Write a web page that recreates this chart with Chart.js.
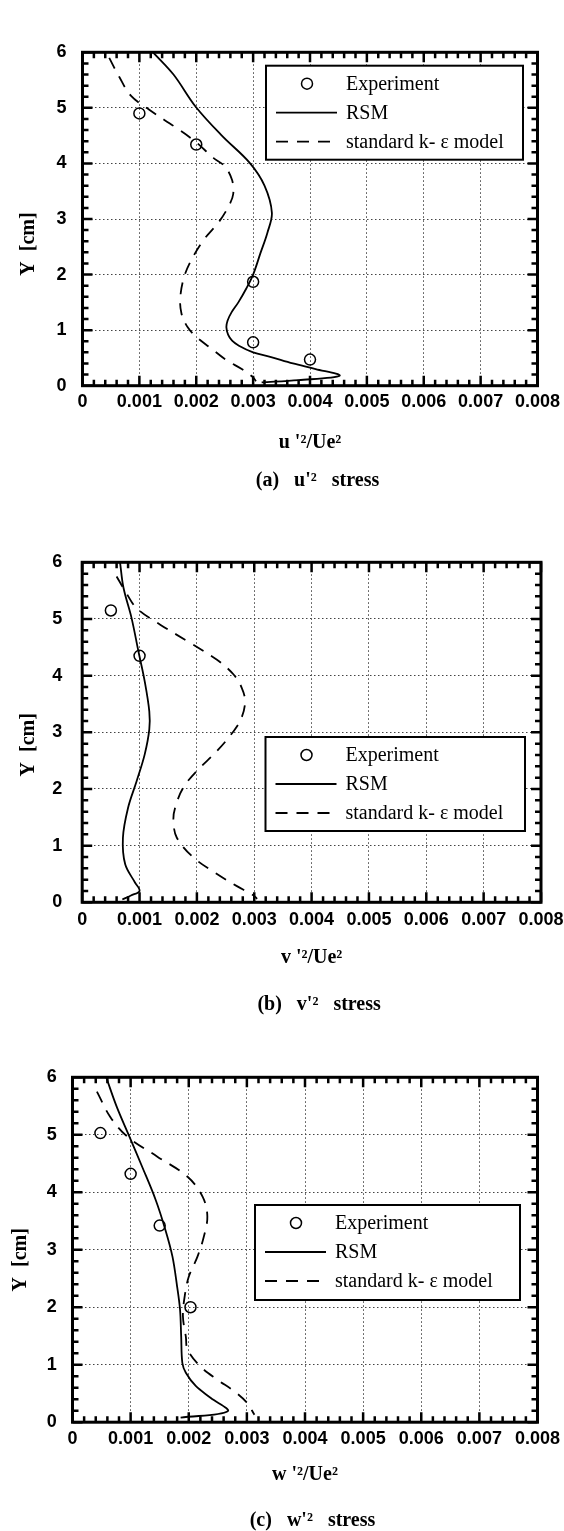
<!DOCTYPE html>
<html>
<head>
<meta charset="utf-8">
<script src="https://cdn.jsdelivr.net/npm/chart.js@4.4.0/dist/chart.umd.min.js"></script>
<style>
  body { margin: 0; background: #fff; }
  #wrap { position: relative; width: 564px; height: 1531px; overflow: hidden; background: #fff; }
  canvas { position: absolute; left: 0; }
</style>
</head>
<body>
<div id="wrap">
  <canvas id="chartA" width="564" height="500" style="top:0px"></canvas>
  <canvas id="chartB" width="564" height="525" style="top:500px"></canvas>
  <canvas id="chartC" width="564" height="506" style="top:1025px"></canvas>
</div>
<script>
// tick labels
const xTickLabels = ['0', '0.001', '0.002', '0.003', '0.004', '0.005', '0.006', '0.007', '0.008'];
const yTickLabels = ['0', '1', '2', '3', '4', '5', '6'];

// (a) u'2 stress
const uExpX = [0.001, 0.002, 0.003, 0.003, 0.004];
const uExpY = [4.9, 4.34, 1.87, 0.78, 0.47];
const uRsmX = [0.00124, 0.0016, 0.00199, 0.00245, 0.00294, 0.0032, 0.00333, 0.00325, 0.00313, 0.003, 0.00288, 0.00274, 0.00262, 0.00255, 0.00253, 0.00256, 0.00263, 0.00275, 0.003, 0.0033, 0.0037, 0.0041, 0.00452, 0.0038, 0.00315];
const uRsmY = [6.0, 5.6, 5.02, 4.5, 4.01, 3.6, 3.11, 2.75, 2.39, 2.0, 1.75, 1.5, 1.32, 1.17, 1.05, 0.92, 0.81, 0.72, 0.6, 0.52, 0.4, 0.3, 0.18, 0.1, 0.06];
const uKeX = [0.00047, 0.00065, 0.00085, 0.00118, 0.00165, 0.002, 0.0023, 0.0025, 0.00263, 0.00265, 0.00258, 0.0024, 0.00215, 0.00196, 0.0018, 0.00172, 0.00174, 0.00185, 0.002, 0.00225, 0.00253, 0.0028, 0.003, 0.00305];
const uKeY = [5.9, 5.55, 5.22, 4.96, 4.64, 4.38, 4.1, 3.95, 3.7, 3.45, 3.25, 2.95, 2.65, 2.35, 2.0, 1.6, 1.3, 1.05, 0.88, 0.68, 0.46, 0.3, 0.15, 0.08];

// (b) v'2 stress
const vExpX = [0.0005, 0.001];
const vExpY = [5.15, 4.35];
const vRsmX = [0.00066, 0.00072, 0.00086, 0.00098, 0.00109, 0.00117, 0.00117, 0.00109, 0.00095, 0.0008, 0.00071, 0.00075, 0.00092, 0.001, 0.00085, 0.0007];
const vRsmY = [6.0, 5.55, 5.02, 4.43, 3.9, 3.37, 3.05, 2.61, 2.14, 1.67, 1.14, 0.67, 0.35, 0.2, 0.12, 0.05];
const vKeX = [0.0006, 0.00075, 0.00095, 0.00136, 0.00188, 0.00235, 0.00264, 0.00278, 0.00284, 0.00278, 0.00264, 0.00235, 0.002, 0.00176, 0.00162, 0.00159, 0.00165, 0.00194, 0.00235, 0.00269, 0.00299, 0.00305];
const vKeY = [5.75, 5.49, 5.19, 4.9, 4.58, 4.28, 4.02, 3.79, 3.55, 3.26, 3.02, 2.67, 2.32, 2.02, 1.67, 1.44, 1.14, 0.79, 0.5, 0.29, 0.12, 0.06];

// (c) w'2 stress
const wExpX = [0.00048, 0.001, 0.0015, 0.00203];
const wExpY = [5.03, 4.32, 3.42, 2.0];
const wRsmX = [0.00058, 0.00076, 0.00097, 0.0012, 0.00143, 0.0016, 0.00172, 0.0018, 0.00185, 0.00187, 0.00189, 0.00195, 0.00212, 0.00238, 0.00267, 0.00186];
const wRsmY = [6.0, 5.49, 4.99, 4.44, 3.87, 3.34, 2.88, 2.36, 1.96, 1.49, 1.03, 0.86, 0.63, 0.42, 0.19, 0.08];
const wKeX = [0.00042, 0.00065, 0.00094, 0.00146, 0.00198, 0.00224, 0.00232, 0.00226, 0.00215, 0.002, 0.00193, 0.0019, 0.00195, 0.00198, 0.0022, 0.00249, 0.00278, 0.003, 0.00313];
const wKeY = [5.75, 5.31, 4.97, 4.62, 4.27, 3.92, 3.58, 3.23, 2.88, 2.53, 2.19, 1.84, 1.49, 1.26, 0.97, 0.74, 0.54, 0.34, 0.13];

const seriesLabels = ['Experiment', 'RSM', 'standard k- \u03b5 model'];

const SERIF = '"Liberation Serif", "Times New Roman", serif';
const SANS = '"Liberation Sans", Arial, sans-serif';

// frame + inward ticks on all four sides
const frameTicks = {
  id: 'frameTicks',
  afterDatasetsDraw(chart) {
    const {ctx, chartArea: a, scales: {x, y}} = chart;
    ctx.save();
    ctx.strokeStyle = '#000';
    ctx.lineWidth = 2.5;
    ctx.beginPath();
    for (let i = 0; i <= 40; i++) {
      const px = x.getPixelForValue(i * 0.0002);
      const len = i % 5 === 0 ? 10 : 6;
      ctx.moveTo(px, a.bottom); ctx.lineTo(px, a.bottom - len);
      ctx.moveTo(px, a.top); ctx.lineTo(px, a.top + len);
    }
    for (let i = 0; i <= 30; i++) {
      const py = y.getPixelForValue(i * 0.2);
      const len = i % 5 === 0 ? 10 : 6;
      ctx.moveTo(a.left, py); ctx.lineTo(a.left + len, py);
      ctx.moveTo(a.right, py); ctx.lineTo(a.right - len, py);
    }
    ctx.stroke();
    ctx.lineWidth = 3;
    ctx.strokeRect(a.left, a.top, a.right - a.left, a.bottom - a.top);
    ctx.restore();
  }
};

// boxed legend inside the plot
const boxLegend = {
  id: 'boxLegend',
  afterDraw(chart, args, opts) {
    const {ctx, chartArea: a} = chart;
    const L = a.left + opts.left, T = a.top + opts.top;
    const rows = [18, 47, 76];
    ctx.save();
    ctx.fillStyle = '#fff';
    ctx.fillRect(L, T, opts.width, opts.height);
    ctx.lineWidth = 2;
    ctx.strokeStyle = '#000';
    ctx.strokeRect(L, T, opts.width, opts.height);
    ctx.font = '20px ' + SERIF;
    ctx.textBaseline = 'middle';
    chart.data.datasets.forEach((ds, i) => {
      const yy = T + rows[i];
      ctx.beginPath();
      if (i === 0) {
        ctx.lineWidth = 1.5;
        ctx.setLineDash([]);
        ctx.arc(L + 41, yy, 5.5, 0, Math.PI * 2);
      } else {
        ctx.lineWidth = 1.8;
        ctx.setLineDash(ds.borderDash || []);
        ctx.moveTo(L + 10, yy);
        ctx.lineTo(L + 71, yy);
      }
      ctx.stroke();
      ctx.setLineDash([]);
      ctx.fillStyle = '#000';
      ctx.fillText(ds.label, L + 80, yy + 1);
    });
    ctx.restore();
  }
};

function pts(xs, ys) {
  return xs.map((v, i) => ({x: v, y: ys[i]}));
}

function makePanel(id, p) {
  return new Chart(document.getElementById(id), {
    type: 'scatter',
    data: {
      datasets: [
        {
          label: seriesLabels[0],
          data: pts(p.expX, p.expY),
          showLine: false,
          pointStyle: 'circle',
          pointRadius: 5.5,
          pointBorderWidth: 1.5,
          pointBorderColor: '#000',
          pointBackgroundColor: 'rgba(0,0,0,0)'
        },
        {
          label: seriesLabels[1],
          data: pts(p.rsmX, p.rsmY),
          showLine: true,
          borderColor: '#000',
          borderWidth: 1.8,
          pointRadius: 0,
          tension: 0.35
        },
        {
          label: seriesLabels[2],
          data: pts(p.keX, p.keY),
          showLine: true,
          borderColor: '#000',
          borderWidth: 1.8,
          borderDash: [12, 9],
          pointRadius: 0,
          tension: 0.35
        }
      ]
    },
    options: {
      responsive: false,
      animation: false,
      devicePixelRatio: 1,
      events: [],
      layout: { padding: p.pad },
      scales: {
        x: {
          type: 'linear',
          min: 0,
          max: 0.008,
          afterFit: s => { s.height = p.xHeight; s.paddingLeft = 0; s.paddingRight = 0; },
          ticks: {
            stepSize: 0.001,
            autoSkip: false,
            maxRotation: 0,
            padding: p.xTickPad,
            color: '#000',
            font: { family: SANS, size: 18, weight: 'bold' },
            callback: (v, i) => xTickLabels[i]
          },
          grid: { color: '#444', lineWidth: 1, drawTicks: false },
          border: { display: false, dash: [1.5, 2.5] },
          title: {
            display: true,
            text: p.xTitle,
            color: '#000',
            font: { family: SERIF, size: 20, weight: 'bold' },
            padding: { top: 0, bottom: p.xTitlePad }
          }
        },
        y: {
          type: 'linear',
          min: 0,
          max: 6,
          afterFit: s => { s.width = p.yWidth; s.paddingTop = 0; s.paddingBottom = 0; },
          ticks: {
            stepSize: 1,
            autoSkip: false,
            padding: p.yTickPad,
            color: '#000',
            font: { family: SANS, size: 18, weight: 'bold' },
            callback: (v, i) => yTickLabels[i]
          },
          grid: { color: '#444', lineWidth: 1, drawTicks: false },
          border: { display: false, dash: [1.5, 2.5] },
          title: {
            display: true,
            text: p.yTitle,
            color: '#000',
            font: { family: SERIF, size: 20, weight: 'bold' },
            padding: { top: p.yTitlePad, bottom: 0 }
          }
        }
      },
      plugins: {
        legend: { display: false },
        tooltip: { enabled: false },
        title: {
          display: true,
          position: 'bottom',
          fullSize: false,
          text: p.caption,
          color: '#000',
          font: { family: SERIF, size: 20, weight: 'bold', lineHeight: 1 },
          padding: 0
        },
        boxLegend: p.legend
      }
    },
    plugins: [frameTicks, boxLegend]
  });
}

makePanel('chartA', {
  expX: uExpX, expY: uExpY, rsmX: uRsmX, rsmY: uRsmY, keX: uKeX, keY: uKeY,
  pad: { top: 52.3, bottom: 9, left: 0, right: 26.5 },
  yWidth: 82.5, xHeight: 85.3, xTickPad: 5.5, yTickPad: 16,
  xTitlePad: 16.2, yTitlePad: 17.2,
  xTitle: "u '\u00b2/Ue\u00b2",
  yTitle: 'Y  [cm]          ',
  caption: "   (a)   u'\u00b2   stress",
  legend: { left: 183.5, top: 13.4, width: 257, height: 94 }
});

makePanel('chartB', {
  expX: vExpX, expY: vExpY, rsmX: vRsmX, rsmY: vRsmY, keX: vKeX, keY: vKeY,
  pad: { top: 62.3, bottom: 10, left: 0, right: 23 },
  yWidth: 82.2, xHeight: 92.7, xTickPad: 6.9, yTickPad: 20,
  xTitlePad: 25.2, yTitlePad: 17.2,
  xTitle: "v '\u00b2/Ue\u00b2",
  yTitle: 'Y  [cm]     ',
  caption: "   (b)   v'\u00b2   stress",
  legend: { left: 183.3, top: 174.7, width: 259.5, height: 94 }
});

makePanel('chartC', {
  expX: wExpX, expY: wExpY, rsmX: wRsmX, rsmY: wRsmY, keX: wKeX, keY: wKeY,
  pad: { top: 52.3, bottom: 0, left: 0, right: 26.5 },
  yWidth: 72.5, xHeight: 88.8, xTickPad: 6.5, yTickPad: 15.7,
  xTitlePad: 23.7, yTitlePad: 9.2,
  xTitle: "w '\u00b2/Ue\u00b2",
  yTitle: 'Y  [cm]    ',
  caption: "   (c)   w'\u00b2   stress",
  legend: { left: 182.5, top: 127.7, width: 265, height: 95 }
});
</script>
</body>
</html>
